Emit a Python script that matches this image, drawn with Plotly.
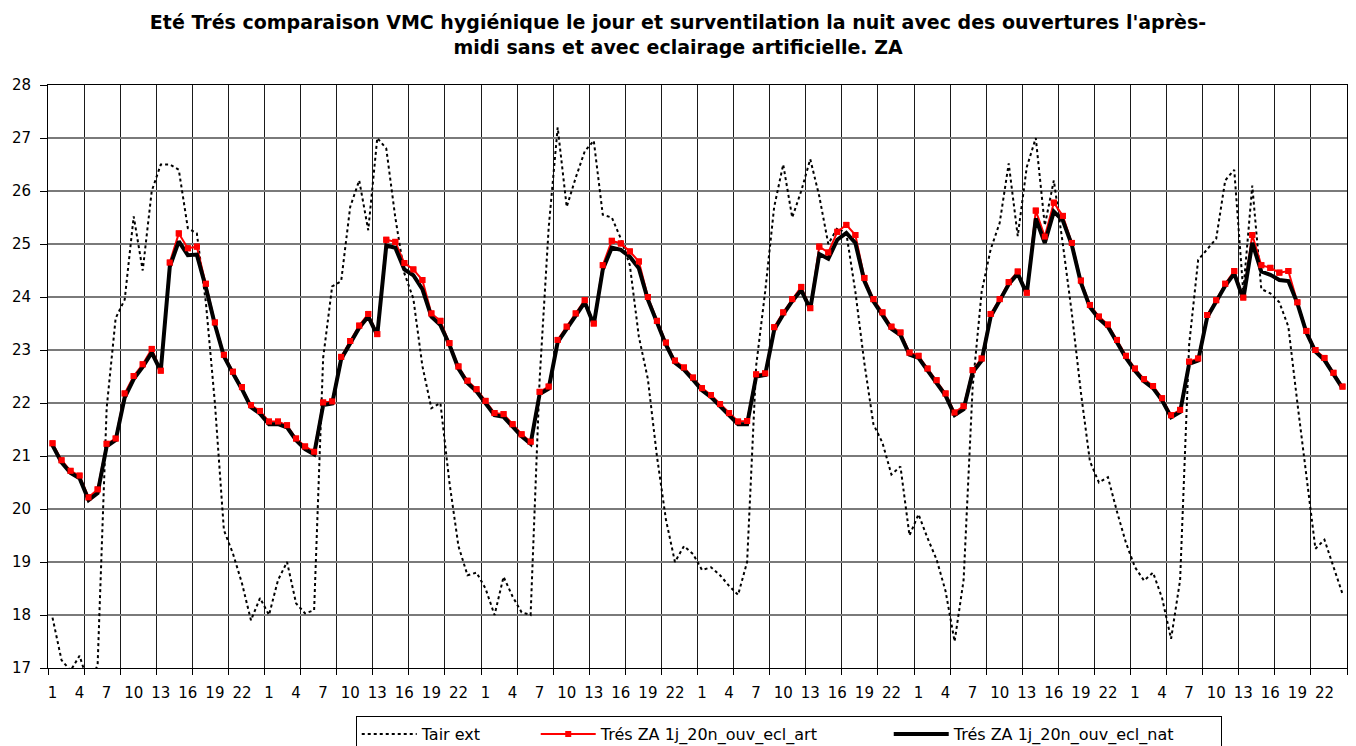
import plotly.graph_objects as go

# hourly index over 6 days (144 points)
n_points = 144
x_index = list(range(1, n_points + 1))

tick_positions = list(range(1, n_points + 1, 3))
tick_labels = ["1", "4", "7", "10", "13", "16", "19", "22"] * 6

tair_ext = [
    17.95, 17.15, 16.95, 17.23, 16.7, 17.05, 21.9, 23.6, 23.95, 25.52, 24.5, 26.0,
    26.5, 26.5, 26.4, 25.3, 25.2, 23.9, 22.0, 19.6, 19.16, 18.6, 17.9, 18.32,
    18.0, 18.66, 19.0, 18.22, 18.03, 18.09, 22.85, 24.2, 24.3, 25.7, 26.2, 25.26,
    27.0, 26.8, 25.5, 24.45, 23.97, 22.7, 21.9, 22.0, 20.5, 19.3, 18.75, 18.8,
    18.5, 18.0, 18.72, 18.35, 18.05, 18.0, 22.45, 25.3, 27.2, 25.7, 26.25, 26.75,
    26.95, 25.55, 25.5, 25.1, 24.6, 23.25, 22.45, 21.0, 19.8, 19.0, 19.3, 19.15,
    18.85, 18.9, 18.75, 18.55, 18.38, 19.0, 22.7, 24.1, 25.7, 26.5, 25.5, 26.0,
    26.6, 25.9, 25.0, 25.3, 25.2, 24.1, 22.75, 21.6, 21.25, 20.65, 20.8, 19.5,
    19.9, 19.45, 19.05, 18.45, 17.5, 18.66, 22.3, 24.1, 24.9, 25.4, 26.52, 25.15,
    26.45, 27.0, 25.35, 26.2, 25.0, 23.69, 22.2, 20.9, 20.5, 20.6, 19.95, 19.36,
    18.9, 18.65, 18.8, 18.32, 17.55, 18.66, 23.1, 24.7, 24.9, 25.1, 26.2, 26.4,
    24.1, 26.1, 24.15, 24.07, 23.9, 23.44, 22.0, 20.6, 19.25, 19.42, 18.9, 18.4,
]

tres_ecl_art = [
    21.24, 20.92, 20.72, 20.63, 20.22, 20.37, 21.23, 21.33, 22.18, 22.51, 22.73, 23.02,
    22.61, 24.65, 25.2, 24.92, 24.95, 24.25, 23.52, 22.91, 22.59, 22.30, 21.96, 21.85,
    21.65, 21.65, 21.58, 21.33, 21.18, 21.08, 22.01, 22.03, 22.87, 23.17, 23.46, 23.68,
    23.30, 25.08, 25.04, 24.64, 24.52, 24.32, 23.69, 23.55, 23.13, 22.69, 22.42, 22.26,
    22.04, 21.81, 21.79, 21.60, 21.41, 21.27, 22.21, 22.31, 23.19, 23.44, 23.69, 23.94,
    23.50, 24.60, 25.06, 25.01, 24.86, 24.67, 24.00, 23.55, 23.14, 22.80, 22.67, 22.48,
    22.28, 22.15, 21.98, 21.81, 21.65, 21.66, 22.54, 22.56, 23.43, 23.71, 23.96, 24.19,
    23.79, 24.95, 24.84, 25.23, 25.36, 25.17, 24.36, 23.96, 23.71, 23.44, 23.33, 22.95,
    22.89, 22.65, 22.43, 22.18, 21.82, 21.94, 22.62, 22.84, 23.68, 23.96, 24.28, 24.48,
    24.08, 25.63, 25.14, 25.78, 25.53, 25.02, 24.31, 23.85, 23.63, 23.48, 23.19, 22.89,
    22.65, 22.45, 22.32, 22.09, 21.77, 21.87, 22.78, 22.84, 23.66, 23.94, 24.25, 24.49,
    23.99, 25.17, 24.60, 24.55, 24.46, 24.49, 23.90, 23.36, 23.00, 22.85, 22.57, 22.31,
]

tres_ecl_nat = [
    21.2, 20.88, 20.68, 20.58, 20.17, 20.3, 21.18, 21.3, 22.1, 22.45, 22.68, 22.95,
    22.6, 24.57, 25.05, 24.79, 24.8, 24.18, 23.48, 22.88, 22.56, 22.26, 21.92, 21.8,
    21.6, 21.6, 21.54, 21.3, 21.13, 21.03, 21.96, 21.99, 22.83, 23.13, 23.42, 23.63,
    23.28, 24.97, 24.93, 24.52, 24.41, 24.15, 23.63, 23.47, 23.1, 22.65, 22.38, 22.22,
    22.0, 21.77, 21.74, 21.55, 21.37, 21.23, 22.17, 22.27, 23.15, 23.4, 23.66, 23.9,
    23.48, 24.52, 24.93, 24.89, 24.76, 24.54, 23.95, 23.5, 23.1, 22.76, 22.63, 22.44,
    22.24, 22.11, 21.94, 21.77, 21.6, 21.6, 22.5, 22.53, 23.38, 23.67, 23.92, 24.13,
    23.77, 24.81, 24.72, 25.08, 25.21, 25.02, 24.3, 23.92, 23.67, 23.4, 23.28, 22.91,
    22.85, 22.61, 22.39, 22.14, 21.77, 21.88, 22.58, 22.8, 23.63, 23.92, 24.24, 24.44,
    24.06, 25.48, 25.02, 25.61, 25.44, 24.98, 24.27, 23.81, 23.59, 23.44, 23.15, 22.85,
    22.61, 22.41, 22.28, 22.05, 21.73, 21.83, 22.74, 22.8, 23.62, 23.9, 24.21, 24.44,
    23.96, 25.02, 24.48, 24.42, 24.32, 24.3, 23.88, 23.33, 22.97, 22.81, 22.54, 22.28,
]

grid_positions = [0.5 + 4 * k for k in range(37)]

FONT = "DejaVu Sans, Liberation Sans, Arial, sans-serif"

fig = go.Figure()

fig.add_trace(go.Scatter(
    x=x_index, y=tair_ext, name="Tair ext", mode="lines", legendwidth=109,
    line=dict(color="black", width=2, dash="dot"),
))
fig.add_trace(go.Scatter(
    x=x_index, y=tres_ecl_art, name="Trés ZA 1j_20n_ouv_ecl_art", mode="lines+markers",
    legendwidth=283,
    line=dict(color="#FF0000", width=2),
    marker=dict(symbol="square", size=6, color="#FF0000"),
))
fig.add_trace(go.Scatter(
    x=x_index, y=tres_ecl_nat, name="Trés ZA 1j_20n_ouv_ecl_nat", mode="lines",
    legendwidth=262,
    line=dict(color="black", width=4),
))
fig.add_trace(go.Scatter(
    x=x_index, y=tres_ecl_art, mode="markers", showlegend=False, hoverinfo="skip",
    marker=dict(symbol="square", size=6, color="#FF0000"),
))

fig.update_layout(
    width=1356, height=746,
    margin=dict(l=48, r=9, t=85, b=78, autoexpand=False),
    paper_bgcolor="white", plot_bgcolor="white",
    font=dict(family=FONT, size=15, color="black"),
    title=dict(
        text="Eté Trés comparaison VMC hygiénique le jour et surventilation la nuit avec des ouvertures l'après-<br>midi sans et avec eclairage artificielle. ZA",
        x=0.5, xanchor="center", xref="container",
        y=0.9609, yanchor="top", yref="container",
        font=dict(family=FONT, size=19, color="black", weight="bold"),
    ),
    xaxis=dict(
        range=[0.5, 144.5], automargin=False,
        tickmode="array", tickvals=tick_positions, ticktext=tick_labels,
        ticks="outside", ticklen=11, tickcolor="rgba(0,0,0,0)",
        showgrid=False, zeroline=False,
        showline=True, linecolor="black", linewidth=1, mirror=True,
        tickfont=dict(family=FONT, size=15),
        minor=dict(
            tickmode="array", tickvals=grid_positions,
            showgrid=True, gridcolor="#1a1a1a", gridwidth=1,
            ticks="outside", ticklen=6, tickcolor="black", tickwidth=1,
        ),
    ),
    yaxis=dict(
        range=[17, 28], tick0=17, dtick=1, automargin=False,
        showgrid=True, gridcolor="#7a7a7a", gridwidth=2,
        zeroline=False,
        ticks="outside", ticklen=7, tickcolor="black",
        showline=True, linecolor="black", linewidth=1, mirror=True,
        tickfont=dict(family=FONT, size=15),
        ticklabelstandoff=6,
    ),
    legend=dict(
        orientation="h",
        x=0.2369, xanchor="left",
        y=-0.0823, yanchor="top",
        bordercolor="black", borderwidth=1, bgcolor="white",
        font=dict(family=FONT, size=16, color="black"),
        itemwidth=55,
        traceorder="normal",
    ),
    showlegend=True,
)

fig.write_html(
    "out.html",
    config={"displayModeBar": False},
    post_script="document.body.style.margin='0';",
)
